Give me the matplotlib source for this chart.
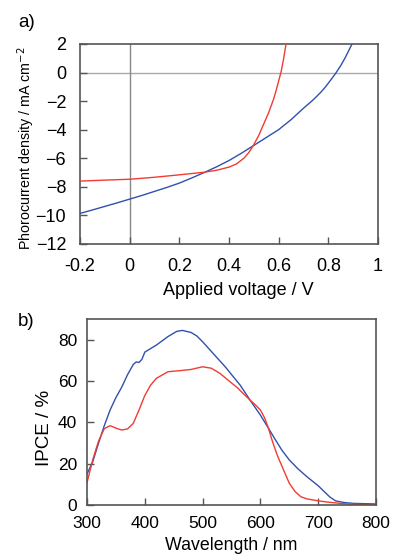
"""J-V curve and IPCE spectrum, two stacked panels"""

import matplotlib
matplotlib.use("Agg")
import matplotlib.pyplot as plt

plt.rcParams["font.family"] = ["Liberation Sans", "DejaVu Sans"]

RED = "#f03c32"
BLUE = "#3050b0"
SPINE = "#555555"

# panel a) J-V curves
jv_red_v = [-0.2, -0.1, 0.0, 0.1, 0.2, 0.3, 0.35, 0.4, 0.43, 0.46, 0.48, 0.5,
            0.52, 0.54, 0.56, 0.58, 0.59, 0.6, 0.61, 0.62, 0.63]
jv_red_j = [-7.6, -7.53, -7.47, -7.33, -7.16, -6.98, -6.84, -6.62, -6.4, -6.0,
            -5.6, -5.05, -4.4, -3.6, -2.8, -1.85, -1.25, -0.6, 0.05, 0.95,
            2.0]
jv_blue_v = [-0.2, -0.15, -0.1, -0.05, 0.0, 0.05, 0.1, 0.15, 0.2, 0.25, 0.3,
             0.35, 0.4, 0.45, 0.5, 0.55, 0.6, 0.65, 0.7, 0.74, 0.77, 0.79,
             0.81, 0.83, 0.85, 0.867, 0.88, 0.9]
jv_blue_j = [-9.86, -9.62, -9.37, -9.12, -8.86, -8.6, -8.32, -8.04, -7.74,
             -7.38, -7.0, -6.6, -6.16, -5.65, -5.1, -4.55, -4.0, -3.3, -2.5,
             -1.9, -1.38, -0.98, -0.52, -0.05, 0.48, 1.0, 1.45, 2.15]

# panel b) IPCE spectra
wl_red = [300, 310, 320, 330, 340, 350, 360, 370, 380, 390, 400, 410, 420,
          440, 460, 480, 500, 515, 530, 545, 560, 570, 582, 590, 600, 607,
          614, 620, 625, 630, 640, 650, 660, 670, 680, 700, 720, 750, 800]
ipce_red = [10.8, 22, 31, 37, 38.4, 37.2, 36.3, 36.8, 39.5, 46, 53, 58, 61.3,
            64.5, 65, 65.6, 66.9, 66.2, 63.7, 60.2, 56.8, 54, 50.8, 48.8, 46,
            42.3, 37.1, 31.5, 27.4, 23.5, 17, 10.5, 6.5, 4, 3, 2, 1.3, 0.5,
            0.0]
wl_blue = [300, 310, 320, 330, 340, 350, 360, 370, 380, 385, 390, 395, 400,
           420, 440, 455, 465, 480, 490, 500, 520, 540, 553, 565, 582, 600,
           614, 625, 637, 650, 665, 680, 700, 710, 720, 730, 745, 760, 800]
ipce_blue = [15, 21, 30, 38.5, 46, 52, 57, 63, 68, 69.2, 69, 70.5, 74, 77.4,
             81.5, 84, 84.5, 83.5, 81.8, 79, 72.8, 66.6, 62.1, 58, 50.8, 43.5,
             37.1, 32, 26.6, 21.8, 17.5, 13.8, 9.3, 6.6, 3.9, 2.0, 1.2, 0.8,
             0.5]


def style_axes(ax, label_size, pad_x, pad_y):
    for sp in ax.spines.values():
        sp.set_color(SPINE)
        sp.set_linewidth(1.2)
    ax.tick_params(direction="in", length=5, width=1.0, color=SPINE,
                   labelsize=label_size, top=False, right=False)
    ax.tick_params(axis="x", pad=pad_x)
    ax.tick_params(axis="y", pad=pad_y)


fig = plt.figure(figsize=(3.93, 5.56), dpi=100)

ax1 = fig.add_axes([0.2036, 0.5612, 0.758, 0.3597])
ax1.axhline(0, color="#aaaaaa", lw=1.0, zorder=1)
ax1.axvline(0, color="#888888", lw=1.0, zorder=1)
ax1.plot(jv_blue_v, jv_blue_j, color=BLUE, lw=1.0, zorder=3)
ax1.plot(jv_red_v, jv_red_j, color=RED, lw=1.0, zorder=3)
ax1.set_xlim(-0.2, 1.0)
ax1.set_ylim(-12, 2)
ax1.set_xticks([-0.2, 0, 0.2, 0.4, 0.6, 0.8, 1.0])
ax1.set_xticklabels(["-0.2", "0", "0.2", "0.4", "0.6", "0.8", "1"])
ax1.set_yticks(range(-12, 3, 2))
style_axes(ax1, 13, 10, 10)
fig.text(0.606, 0.469, "Applied voltage / V", fontsize=13,
         ha="center", va="baseline")
fig.text(0.078, 0.734, "Phorocurrent density / mA cm$^{-2}$", fontsize=10.3,
         rotation=90, rotation_mode="anchor", ha="center", va="baseline")
fig.text(0.046, 0.960, "a)", fontsize=13.5, ha="left", va="center")

ax2 = fig.add_axes([0.2214, 0.0917, 0.7354, 0.3345])
ax2.plot(wl_blue, ipce_blue, color=BLUE, lw=1.0)
ax2.plot(wl_red, ipce_red, color=RED, lw=1.0)
ax2.set_xlim(300, 800)
ax2.set_ylim(0, 90)
ax2.set_xticks(range(300, 801, 100))
ax2.set_yticks(range(0, 81, 20))
style_axes(ax2, 12.5, 8, 7)
fig.text(0.587, 0.011, "Wavelength / nm", fontsize=12.8,
         ha="center", va="baseline")
fig.text(0.1247, 0.231, "IPCE / %", fontsize=13.5,
         rotation=90, rotation_mode="anchor", ha="center", va="baseline")
fig.text(0.046, 0.421, "b)", fontsize=13.5, ha="left", va="center")

fig.savefig("out.png", dpi=100)
